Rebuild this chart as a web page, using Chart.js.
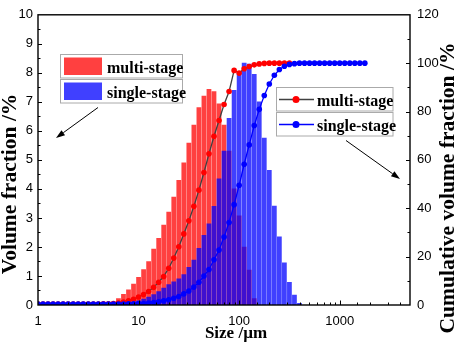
<!DOCTYPE html>
<html>
<head>
<meta charset="utf-8">
<script src="https://cdn.jsdelivr.net/npm/chart.js@4/dist/chart.umd.min.js"></script>
<style>
  body { margin: 0; background: #fff; }
</style>
</head>
<body>
<canvas id="psdChart" width="457" height="345"></canvas>
<script>
// particle size classes (um), 20 per decade
const sizes = [
  1.000, 1.122, 1.259, 1.413, 1.585, 1.778, 1.995, 2.239, 2.512, 2.818,
  3.162, 3.548, 3.981, 4.467, 5.012, 5.623, 6.310, 7.079, 7.943, 8.913,
  10.00, 11.22, 12.59, 14.13, 15.85, 17.78, 19.95, 22.39, 25.12, 28.18,
  31.62, 35.48, 39.81, 44.67, 50.12, 56.23, 63.10, 70.79, 79.43, 89.13,
  100.0, 112.2, 125.9, 141.3, 158.5, 177.8, 199.5, 223.9, 251.2, 281.8,
  316.2, 354.8, 398.1, 446.7, 501.2, 562.3, 631.0, 707.9, 794.3, 891.3,
  1000, 1122, 1259, 1413, 1585, 1778
];

// volume fraction /% (left axis)
const multiFraction = [
  null, null, null, null, null, null, null, null, null, null,
  null, null, null, 0.02, 0.05, 0.10, 0.22, 0.37, 0.52, 0.72,
  0.95, 1.22, 1.50, 1.93, 2.30, 2.75, 3.20, 3.72, 4.30, 4.90,
  5.58, 6.20, 6.80, 7.20, 7.43, 7.35, 6.93, 6.20, 5.30, 4.00,
  3.07, 2.00, 1.20, 0.22, null, null, null, null, null, null,
  null, null, null, null, null, null, null, null, null, null,
  null, null, null, null, null, null
];
const singleFraction = [
  null, null, null, null, null, null, null, null, null, null,
  null, null, null, null, null, null, 0.02, 0.04, 0.07, 0.10,
  0.14, 0.20, 0.27, 0.36, 0.46, 0.58, 0.70, 0.80, 0.90, 1.05,
  1.30, 1.55, 1.95, 2.40, 2.80, 3.40, 4.35, 5.30, 6.43, 7.40,
  8.05, 8.34, 8.30, 7.95, 7.00, 5.75, 4.64, 3.41, 2.35, 1.45,
  0.78, 0.34, 0.06, null, null, null, null, null, null, null,
  null, null, null, null, null, null
];

// cumulative volume fraction /% (right axis)
const multiCumulative = [
  0.4, 0.4, 0.4, 0.4, 0.4, 0.4, 0.4, 0.4, 0.4, 0.4,
  0.4, 0.4, 0.4, 0.45, 0.5, 0.6, 0.8, 1.2, 1.7, 2.4,
  3.3, 4.3, 5.6, 7.3, 9.4, 11.8, 15.2, 19.4, 24.1, 29.4,
  34.8, 40.8, 47.5, 54.8, 62.5, 69.8, 76.3, 82.9, 88.3, 97.0,
  95.9, 97.7, 98.6, 99.3, 99.7, 99.9, 100, 100, 100, 100,
  100, null, null, null, null, null, null, null, null, null,
  null, null, null, null, null, null
];
const singleCumulative = [
  0.4, 0.4, 0.4, 0.4, 0.4, 0.4, 0.4, 0.4, 0.4, 0.4,
  0.4, 0.4, 0.4, 0.4, 0.4, 0.4, 0.4, 0.42, 0.45, 0.5,
  0.55, 0.65, 0.8, 1.0, 1.3, 1.7, 2.2, 2.8, 3.5, 4.6,
  5.8, 7.4, 9.4, 12.0, 14.7, 18.7, 22.7, 28.1, 34.1, 41.5,
  49.5, 58.2, 66.2, 74.2, 80.9, 86.6, 91.4, 95.0, 97.4, 98.7,
  99.5, 99.8, 100, 100, 100, 100, 100, 100, 100, 100,
  100, 100, 100, 100, 100, 100
];

const xMajor = [1, 10, 100, 1000];
const seriesNames = ['multi-stage', 'single-stage'];

const RED_BAR = 'rgba(255, 0, 0, 0.75)';
const BLUE_BAR = 'rgba(0, 0, 255, 0.75)';
const tickFont = { family: '"Liberation Sans", Arial, sans-serif', size: 13 };
const SERIF = '"Liberation Serif", "Times New Roman", serif';

function isPow10(v) {
  const l = Math.log10(v);
  return Math.abs(l - Math.round(l)) < 1e-6;
}

function arrow(ctx, x0, y0, x1, y1) {
  const ang = Math.atan2(y1 - y0, x1 - x0);
  const hl = 9, hw = 3;
  ctx.beginPath();
  ctx.moveTo(x0, y0);
  ctx.lineTo(x1 - hl * Math.cos(ang), y1 - hl * Math.sin(ang));
  ctx.stroke();
  ctx.beginPath();
  ctx.moveTo(x1, y1);
  ctx.lineTo(x1 - hl * Math.cos(ang) + hw * Math.sin(ang), y1 - hl * Math.sin(ang) - hw * Math.cos(ang));
  ctx.lineTo(x1 - hl * Math.cos(ang) - hw * Math.sin(ang), y1 - hl * Math.sin(ang) + hw * Math.cos(ang));
  ctx.closePath();
  ctx.fill();
}

// frame, inward ticks, titles, legends and arrows
const decor = {
  id: 'decor',
  afterDraw(chart) {
    const ctx = chart.ctx;
    const a = chart.chartArea;
    const sx = chart.scales.x, sy = chart.scales.y, sy1 = chart.scales.y1;
    ctx.save();
    ctx.strokeStyle = '#000';
    ctx.fillStyle = '#000';

    ctx.lineWidth = 1;
    ctx.beginPath();
    for (let v = 0.5; v < 10; v += 0.5) {
      const py = Math.round(sy.getPixelForValue(v)) + 0.5;
      ctx.moveTo(a.left, py);
      ctx.lineTo(a.left + (v % 1 === 0 ? 4 : 2.5), py);
    }
    for (let v = 10; v < 120; v += 10) {
      const py = Math.round(sy1.getPixelForValue(v)) + 0.5;
      ctx.moveTo(a.right, py);
      ctx.lineTo(a.right - (v % 20 === 0 ? 4 : 2.5), py);
    }
    sx.ticks.forEach(t => {
      if (t.value <= 1 || t.value >= 5000) return;
      const px = Math.round(sx.getPixelForValue(t.value)) + 0.5;
      ctx.moveTo(px, a.bottom);
      ctx.lineTo(px, a.bottom - (isPow10(t.value) ? 4.5 : 2.5));
    });
    ctx.stroke();

    ctx.lineWidth = 1.4;
    ctx.strokeRect(a.left, a.top, a.right - a.left, a.bottom - a.top);

    // axis titles
    ctx.textAlign = 'center';
    ctx.textBaseline = 'middle';
    ctx.font = 'bold 21.5px ' + SERIF;
    ctx.save();
    ctx.translate(10, 184);
    ctx.rotate(-Math.PI / 2);
    ctx.fillText('Volume fraction /%', 0, 0);
    ctx.restore();
    ctx.save();
    ctx.translate(448, 188);
    ctx.rotate(-Math.PI / 2);
    ctx.fillText('Cumulative volume fraction /%', 0, 0);
    ctx.restore();
    ctx.font = 'bold 17px ' + SERIF;
    ctx.textBaseline = 'alphabetic';
    ctx.fillText('Size /\u00b5m', 236, 338);

    // bar legend
    ctx.lineWidth = 1;
    ctx.strokeStyle = '#aaa';
    ctx.font = 'bold 16px ' + SERIF;
    ctx.textAlign = 'left';
    [[54.5, RED_BAR], [79.5, BLUE_BAR]].forEach((row, i) => {
      ctx.fillStyle = '#fff';
      ctx.fillRect(60.5, row[0], 122, 23.5);
      ctx.strokeRect(60.5, row[0], 122, 23.5);
      ctx.fillStyle = row[1];
      ctx.fillRect(64, row[0] + 3, 38, 17.5);
      ctx.fillStyle = '#000';
      ctx.fillText(seriesNames[i], 107, row[0] + 18.5);
    });

    // line legend
    [[87.5, '#404040', '#ff0000'], [112.5, '#0000ff', '#0000ff']].forEach((row, i) => {
      ctx.fillStyle = '#fff';
      ctx.strokeStyle = '#aaa';
      ctx.fillRect(276.5, row[0], 116.5, 23.5);
      ctx.strokeRect(276.5, row[0], 116.5, 23.5);
      const ly = row[0] + 12;
      ctx.strokeStyle = row[1];
      ctx.lineWidth = 1.5;
      ctx.beginPath();
      ctx.moveTo(279, ly);
      ctx.lineTo(314, ly);
      ctx.stroke();
      ctx.lineWidth = 1;
      ctx.fillStyle = row[2];
      ctx.beginPath();
      ctx.arc(296, ly, 3.5, 0, Math.PI * 2);
      ctx.fill();
      ctx.fillStyle = '#000';
      ctx.fillText(seriesNames[i], 317, row[0] + 18.5);
    });

    ctx.strokeStyle = '#000';
    ctx.fillStyle = '#000';
    ctx.lineWidth = 1;
    arrow(ctx, 98, 107.5, 56, 138);
    arrow(ctx, 346, 140.5, 400, 179);
    ctx.restore();
  }
};

const data = {
  labels: sizes,
  datasets: [
    {
      type: 'line',
      label: seriesNames[1] + ' cumulative',
      data: singleCumulative,
      yAxisID: 'y1',
      order: 0,
      borderColor: '#0000ff',
      borderWidth: 1.3,
      pointRadius: 2.8,
      pointBorderWidth: 0,
      pointBackgroundColor: '#0000ff'
    },
    {
      type: 'line',
      label: seriesNames[0] + ' cumulative',
      data: multiCumulative,
      yAxisID: 'y1',
      order: 1,
      borderColor: '#404040',
      borderWidth: 1.3,
      pointRadius: 2.8,
      pointBorderWidth: 0,
      pointBackgroundColor: '#ff0000'
    },
    {
      type: 'bar',
      label: seriesNames[1],
      data: singleFraction,
      yAxisID: 'y',
      order: 2,
      grouped: false,
      barThickness: 4.1,
      backgroundColor: BLUE_BAR
    },
    {
      type: 'bar',
      label: seriesNames[0],
      data: multiFraction,
      yAxisID: 'y',
      order: 3,
      grouped: false,
      barThickness: 4.1,
      backgroundColor: RED_BAR
    }
  ]
};

const config = {
  type: 'bar',
  data: data,
  options: {
    responsive: false,
    animation: false,
    layout: { padding: { top: 6, left: 0, right: 0, bottom: 0 } },
    plugins: {
      legend: { display: false },
      tooltip: { enabled: false }
    },
    scales: {
      x: {
        type: 'logarithmic',
        min: 1,
        max: 5000,
        grid: { display: false, drawTicks: false },
        border: { display: false },
        ticks: {
          autoSkip: false,
          maxRotation: 0,
          padding: 9,
          color: '#000',
          font: tickFont,
          callback: v => (xMajor.includes(v) ? String(v) : '')
        },
        afterFit: s => { s.height = 40; }
      },
      y: {
        position: 'left',
        min: 0,
        max: 10,
        grid: { display: false, drawTicks: false },
        border: { display: false },
        ticks: { stepSize: 1, padding: 5, color: '#000', font: tickFont },
        afterFit: s => { s.width = 38; }
      },
      y1: {
        position: 'right',
        min: 0,
        max: 120,
        grid: { display: false, drawTicks: false },
        border: { display: false },
        ticks: { stepSize: 20, padding: 7, color: '#000', font: tickFont },
        afterFit: s => { s.width = 47; }
      }
    }
  },
  plugins: [decor]
};

const psdChart = new Chart(
  document.getElementById('psdChart'),
  config
);
</script>
</body>
</html>
